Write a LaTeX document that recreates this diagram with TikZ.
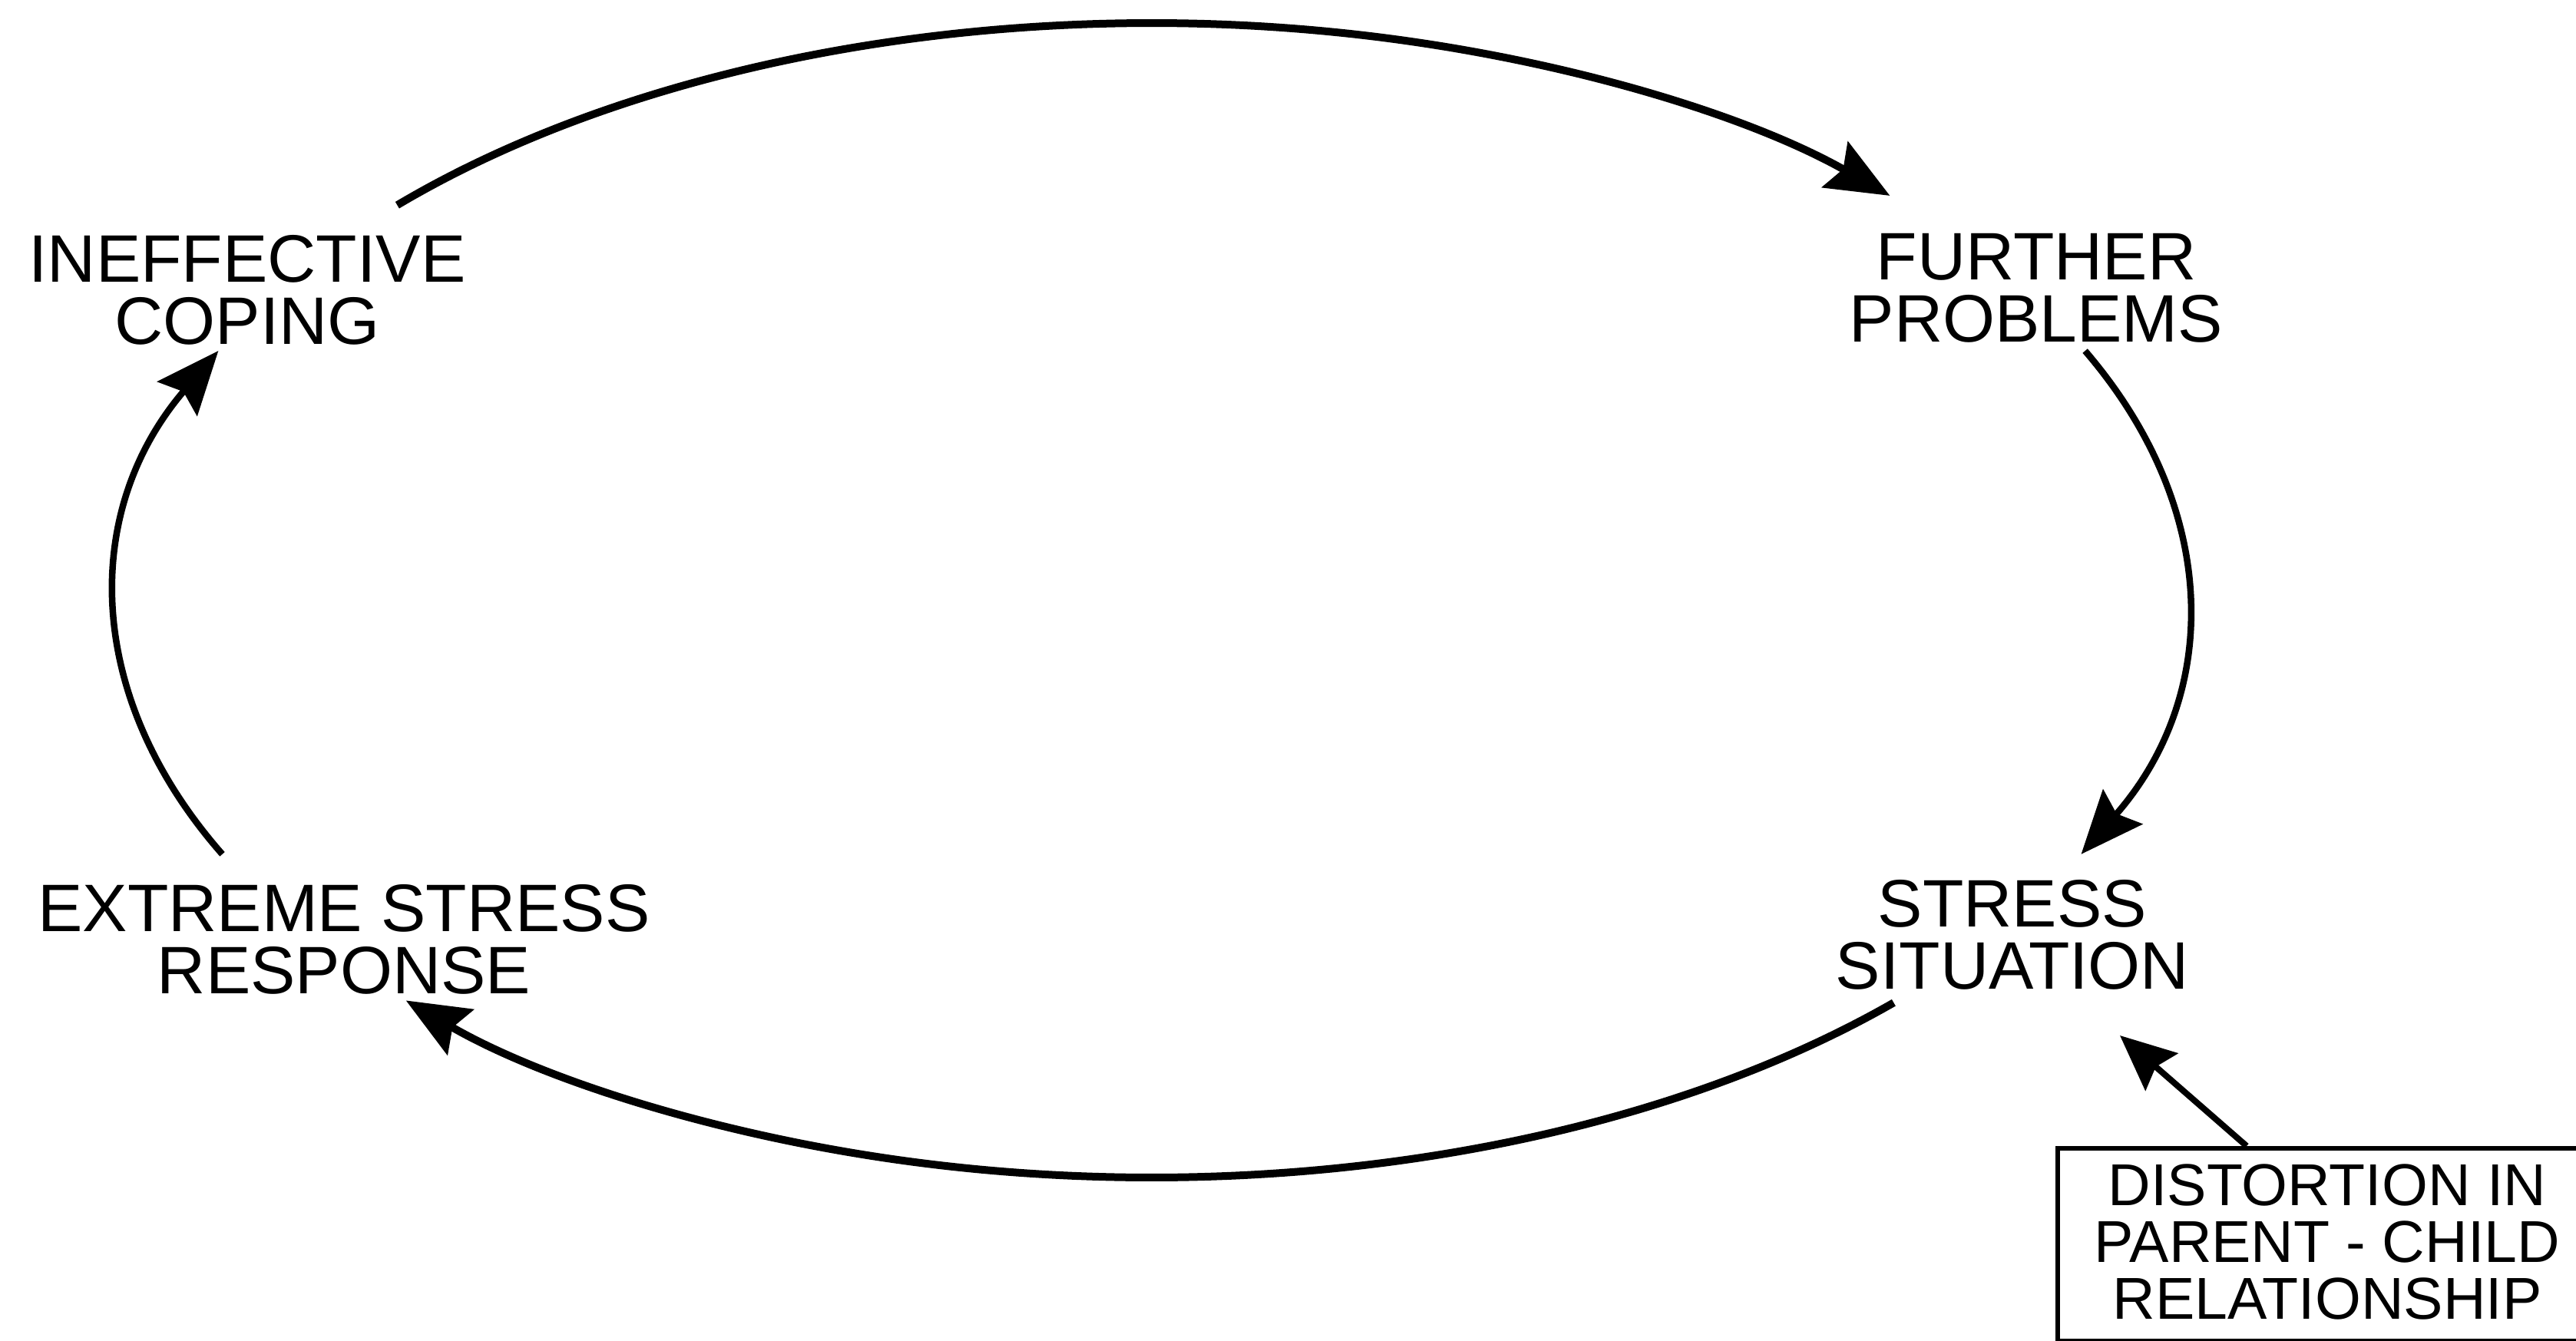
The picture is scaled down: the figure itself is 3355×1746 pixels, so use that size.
\documentclass[tikz,border=0pt]{standalone}
\usepackage{fontspec}
\newfontfamily\lab{Liberation Sans}
\usetikzlibrary{arrows.meta,fit}
\tikzset{
  lbl/.style={inner sep=0pt, align=center, font=\lab\fontsize{8.75pt}{8.1pt}\selectfont},
  boxlbl/.style={inner sep=0pt, align=center, font=\lab\fontsize{7.7pt}{7.4pt}\selectfont},
  boxframe/.style={draw, line width=0.6pt, inner sep=0pt},
  cyc/.style={line width=0.9pt, -{Stealth[length=8.2pt,width=6.8pt,inset=1.2pt]}},
  thick cyc/.style={cyc, line width=1.0pt},
  thin cyc/.style={cyc, line width=0.85pt},
}
\begin{document}
\begin{tikzpicture}[x=0.1pt,y=0.1pt]
\useasboundingbox (0,0) rectangle (3355,1746);
\clip (0,0) rectangle (3355,1746);
\fill[white] (0,0) rectangle (3355,1746);
% nodes
\node[lbl] (coping) at (322,1368) {INEFFECTIVE\\COPING};
\node[lbl] (further) at (2652,1371) {FURTHER\\PROBLEMS};
\node[lbl] (extreme) at (448,522) {EXTREME STRESS\\RESPONSE};
\node[lbl] (stress) at (2621,528) {STRESS\\SITUATION};
\node[boxlbl] (dist) at (3031,128) {DISTORTION IN\\PARENT - CHILD\\RELATIONSHIP};
\coordinate (bxl) at (2680,-1);
\coordinate (bxr) at (3440,250);
\node[boxframe, fit=(bxl)(bxr)] (distbox) {};
% ellipse centre and arc start points
\coordinate (E) at (1500,964);
\path (E) ++(136.8:1348 and 752) coordinate (s1);
\path (E) ++(25.6:1348 and 752) coordinate (s2);
\path (E) ++(-44.2:1348 and 752) coordinate (s3);
\path (E) ++(-153.9:1348 and 752) coordinate (s4);
% cycle arcs
\draw[thick cyc] (s1) arc[start angle=136.8, end angle=44.5, x radius=1348, y radius=752];
\draw[thin cyc] (s2) arc[start angle=25.6, end angle=-26.1, x radius=1348, y radius=752];
\draw[thick cyc] (s3) arc[start angle=-44.2, end angle=-136.1, x radius=1348, y radius=752];
\draw[thin cyc] (s4) arc[start angle=-153.9, end angle=-205.6, x radius=1348, y radius=752];
% box arrow
\path (distbox.north west) ++(249,0) coordinate (dtop);
\coordinate (dtip) at (2761,397);
\draw[line width=0.8pt, -{Stealth[length=7.2pt,width=6.4pt,inset=1pt]}] (dtop) -- (dtip);
\end{tikzpicture}
\end{document}
